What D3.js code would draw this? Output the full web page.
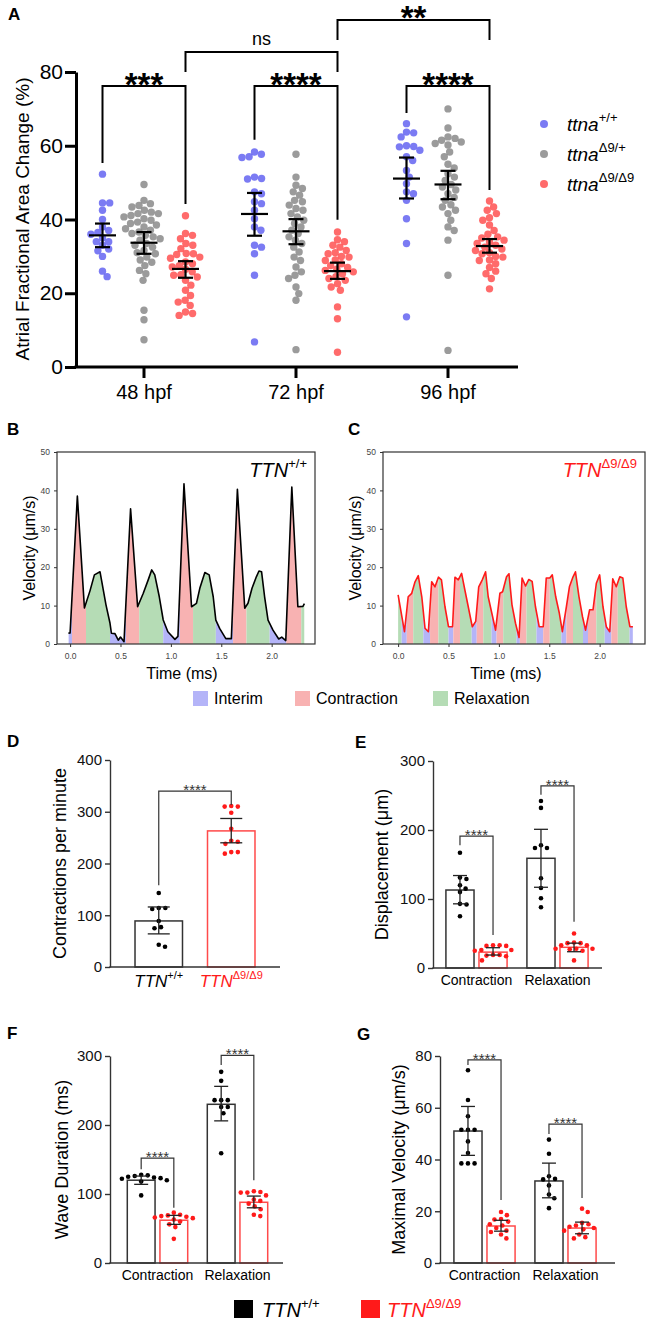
<!DOCTYPE html>
<html><head><meta charset="utf-8">
<script src="https://cdn.jsdelivr.net/npm/d3@7"></script>
<style>body{margin:0;background:#fff}</style>
</head><body>
<svg id="chart" width="647" height="1322"></svg>
<script>
// ================= DATA =================
// Panel A
const stagesA = ["48 hpf", "72 hpf", "96 hpf"];
const genotypesA = ["+/+", "Δ9/+", "Δ9/Δ9"];
const aTicks = [0, 20, 40, 60, 80];
const a48_wt = [52.3, 44.5, 44.5, 42.5, 40, 38, 37, 36.5, 36, 35, 34, 34, 33, 32, 31.5, 30, 26, 24.5];
const a48_het = [49.5, 45.2, 44.3, 43.8, 43.4, 42.5, 42, 41.6, 41.6, 41.1, 40.7, 40.2, 39.8, 39.3, 38.9, 38.5, 38, 37.5, 37.1, 36.6, 36.2, 35.7, 35.3, 34.8, 34.4, 33.5, 33, 32.5, 31.6, 31, 30.7, 29.8, 29, 28.4, 27.5, 26.2, 25.3, 23.5, 15.4, 12.8, 7.4];
const a48_mut = [41, 36.2, 35.7, 34.8, 33.5, 33, 32.1, 30.8, 30.7, 30.5, 29.8, 29.5, 28.5, 28, 27.5, 27.1, 26.5, 25.8, 25, 24.9, 24.4, 23.5, 22.2, 20.8, 19.4, 18.1, 17.6, 16.7, 14.9, 14.5, 14];
const a72_wt = [58.3, 57.7, 57, 56.8, 51.5, 51.1, 51, 47.5, 47, 44.8, 44.3, 42.5, 40.2, 38, 37.1, 33, 32.5, 30.7, 24.9, 6.8];
const a72_het = [57.7, 51.5, 49.3, 48.4, 47.5, 46.6, 45.2, 44.8, 43.9, 43, 42.5, 41.6, 40.7, 39.8, 38.9, 38, 37.1, 36.2, 35.3, 34.4, 33.5, 32.5, 31.2, 29.8, 28.9, 27.1, 25.8, 24.9, 24, 21.7, 19.9, 18.1, 4.7];
const a72_mut = [36.6, 34.5, 34, 33, 32.5, 31.6, 31, 30.7, 30, 29.8, 29, 28.9, 28, 27.5, 27, 26.5, 26.2, 25.8, 25.3, 24.5, 24, 23.5, 22.6, 21.7, 20.8, 16.3, 13.1, 4];
const a96_wt = [66, 63.7, 63.5, 62.4, 60, 59.8, 59.7, 58.8, 57, 56, 53.3, 51.5, 49.7, 47.5, 47, 45.2, 40.2, 33.5, 13.6];
const a96_het = [70, 64.8, 62.4, 62, 61.5, 61, 60.6, 60.2, 58.3, 57, 55, 54, 52.4, 51.5, 50.6, 49.5, 48.8, 48, 47, 46, 45.2, 44, 43.4, 42.5, 41.6, 39.8, 38, 37, 34.4, 24.9, 4.5];
const a96_mut = [45, 43.4, 42.5, 41.6, 40.5, 39.8, 38.5, 37, 36, 35.3, 35, 34.4, 34, 33.5, 33, 32.5, 32, 31.6, 31, 30.7, 30, 29.8, 29, 28.9, 28, 27, 26, 25.3, 24, 21.2];
const aMean = [[35.7, 33.7, 26.6], [41.5, 36.8, 26.0], [51.1, 49.5, 32.8]];
const aLow = [[32.5, 30.7, 24.2], [35.6, 33.3, 23.9], [45.7, 45.5, 31.0]];
const aHigh = [[38.9, 36.6, 28.7], [47.2, 40.1, 28.3], [56.8, 53.2, 34.7]];

// Panels B, C
const velTicks = [0, 10, 20, 30, 40, 50];
const timeTicks = [0, 0.5, 1.0, 1.5, 2.0];
const phaseNames = ["Interim", "Contraction", "Relaxation"];
const traceB = [[-0.017,2.8],[0.0,2.9],[0.072,38.5],[0.142,9.4],[0.198,13.9],[0.241,18],[0.297,18.8],[0.356,10.2],[0.396,5.4],[0.41,2.8],[0.445,2.7],[0.478,1.0],[0.50,1.8],[0.535,0.6],[0.60,35.2],[0.67,9.7],[0.726,13.2],[0.775,16.7],[0.81,19.3],[0.84,18],[0.885,12.3],[0.924,6.25],[0.97,3.2],[1.04,1.2],[1.07,2.0],[1.13,41.7],[1.205,9.7],[1.254,10.6],[1.287,14.5],[1.337,18.6],[1.38,18],[1.42,12.3],[1.446,6.2],[1.485,4],[1.545,1.4],[1.6,1.4],[1.66,40.3],[1.733,9.3],[1.765,10.6],[1.805,14.5],[1.848,17.5],[1.874,19],[1.90,18.8],[1.93,12.3],[1.964,6.2],[2.013,3.6],[2.07,1.3],[2.10,1.8],[2.14,0.9],[2.20,40.9],[2.26,9.7],[2.31,9.8],[2.325,10.5]];
const phasesB = [[-0.017,0.02,"Interim"],[0.02,0.158,"Contraction"],[0.158,0.396,"Relaxation"],[0.396,0.554,"Interim"],[0.554,0.686,"Contraction"],[0.686,0.924,"Relaxation"],[0.924,1.089,"Interim"],[1.089,1.22,"Contraction"],[1.22,1.446,"Relaxation"],[1.446,1.617,"Interim"],[1.617,1.75,"Contraction"],[1.75,1.98,"Relaxation"],[1.98,2.145,"Interim"],[2.145,2.294,"Contraction"],[2.294,2.327,"Relaxation"]];
const traceC = [[0.0,12.8],[0.063,3.2],[0.10,12.3],[0.135,13.2],[0.168,16.2],[0.20,17.8],[0.235,12.3],[0.267,4.1],[0.30,3.2],[0.333,16.2],[0.366,14.9],[0.40,17.4],[0.43,16.7],[0.465,9.7],[0.50,4.5],[0.54,4.5],[0.564,17.4],[0.597,16.7],[0.63,18.4],[0.663,14],[0.696,9.7],[0.736,4.5],[0.77,5.9],[0.80,14.9],[0.835,16.7],[0.868,18.8],[0.894,12.3],[0.93,8],[0.967,3.6],[1.01,13.2],[1.037,13.6],[1.076,17.5],[1.10,18.3],[1.13,10.2],[1.165,5.4],[1.20,1.7],[1.23,17.2],[1.264,15.1],[1.297,16.8],[1.33,16.3],[1.363,9.7],[1.40,4.5],[1.44,4.5],[1.47,17.2],[1.505,17.2],[1.53,18],[1.564,12.3],[1.60,8],[1.63,3.2],[1.67,9.7],[1.70,14.9],[1.736,17.5],[1.76,18.8],[1.795,12.3],[1.83,7.1],[1.86,3.6],[1.90,8.9],[1.934,8.9],[1.967,15.8],[2.0,18],[2.033,9.7],[2.066,4.5],[2.10,3.2],[2.13,17],[2.165,14.9],[2.20,17.5],[2.23,17.2],[2.264,9.7],[2.30,4.5],[2.33,4.5]];
const phasesC = [[-0.03,0.035,"Relaxation"],[0.035,0.086,"Interim"],[0.086,0.15,"Contraction"],[0.15,0.25,"Relaxation"],[0.25,0.317,"Interim"],[0.317,0.40,"Contraction"],[0.40,0.50,"Relaxation"],[0.50,0.548,"Interim"],[0.548,0.614,"Contraction"],[0.614,0.73,"Relaxation"],[0.73,0.78,"Interim"],[0.78,0.845,"Contraction"],[0.845,0.927,"Relaxation"],[0.927,0.977,"Interim"],[0.977,1.043,"Contraction"],[1.043,1.175,"Relaxation"],[1.175,1.208,"Interim"],[1.208,1.274,"Contraction"],[1.274,1.373,"Relaxation"],[1.373,1.44,"Interim"],[1.44,1.505,"Contraction"],[1.505,1.62,"Relaxation"],[1.62,1.67,"Interim"],[1.67,1.736,"Contraction"],[1.736,1.835,"Relaxation"],[1.835,1.884,"Interim"],[1.884,1.967,"Contraction"],[1.967,2.05,"Relaxation"],[2.05,2.116,"Interim"],[2.116,2.18,"Contraction"],[2.18,2.297,"Relaxation"],[2.297,2.33,"Interim"]];

// Panel D
const dCats = ["+/+", "Δ9/Δ9"];
const dTicks = [0, 100, 200, 300, 400];
const dMean = [89, 263];
const dLow = [64, 240];
const dHigh = [116, 287];
const dPtsWT = [143, 114, 112, 114, 89, 75, 77, 39, 43];
const dPtsMut = [311, 310, 310, 298, 267, 242, 238, 244, 219, 222, 222];

// Panels E, F, G (Contraction / Relaxation)
const phaseCats = ["Contraction", "Relaxation"];
const genoBars = ["wt", "mut"];
const eTicks = [0, 100, 200, 300];
const eMeanWT = [113, 159], eLowWT = [93, 117], eHighWT = [134, 201];
const eMeanMut = [23, 30], eLowMut = [18.8, 23.6], eHighMut = [29.4, 36];
const ePtsWT_C = [167, 131, 129, 120, 115, 110, 93, 92, 75];
const ePtsMut_C = [33, 33, 32, 32, 26, 26, 25, 19, 19, 18, 17, 11];
const ePtsWT_R = [242, 232, 178, 174, 174, 130, 116, 101, 88];
const ePtsMut_R = [50, 37, 36, 36, 33, 33, 28, 28, 27, 28, 25, 11];

const fTicks = [0, 100, 200, 300];
const fMeanWT = [120, 230], fLowWT = [114, 206], fHighWT = [126, 256];
const fMeanMut = [62, 88], fLowMut = [56, 80], fHighMut = [69, 97];
const fPtsWT_C = [128, 127, 126, 125, 124, 123, 122, 120, 118, 98];
const fPtsMut_C = [73, 70, 69, 68, 67, 66, 65, 63, 60, 56, 52, 35];
const fPtsWT_R = [277, 264, 236, 236, 236, 226, 226, 217, 159];
const fPtsMut_R = [104, 103, 102, 102, 98, 92, 90, 86, 82, 78, 70, 68];

const gTicks = [0, 20, 40, 60, 80];
const gMeanWT = [51, 31.7], gLowWT = [41.6, 25.2], gHighWT = [60.5, 38.6];
const gMeanMut = [14.3, 13.5], gLowMut = [12.3, 11.3], gHighMut = [16.5, 15.8];
const gPtsWT_C = [74.5, 63, 56.7, 51.5, 51.5, 51.5, 47, 42.5, 38.5, 38.5, 38.5];
const gPtsMut_C = [19.7, 18.5, 17, 16.8, 16, 15, 14.5, 13.5, 12.5, 12, 11, 9.5];
const gPtsWT_R = [47.7, 42.2, 33.5, 32.5, 32.3, 30, 26.5, 25, 21.2];
const gPtsMut_R = [21, 19.7, 15.5, 15, 14.5, 14, 13.5, 13, 12.5, 11, 10, 9.5];

// ================= DRAWING =================
const F = "'Liberation Sans', Arial, Helvetica, sans-serif";
const svg = d3.select("#chart").attr("font-family", F);
svg.append("rect").attr("width", 647).attr("height", 1322).attr("fill", "#fff");
const RED = "#ff1a1a";

function txt(g, x, y, s, size, opts = {}) {
  const t = g.append("text").attr("x", x).attr("y", y).text(s)
    .attr("font-family", F).attr("font-size", size).attr("fill", opts.fill || "#000");
  if (opts.anchor) t.attr("text-anchor", opts.anchor);
  if (opts.bold) t.attr("font-weight", "bold");
  if (opts.italic) t.attr("font-style", "italic");
  return t;
}
function supText(g, x, y, base, sup, size, supSize, supDy, opts = {}) {
  const t = g.append("text").attr("x", x).attr("y", y).attr("font-family", F)
    .attr("font-size", size).attr("fill", opts.fill || "#000").attr("font-style", "italic");
  if (opts.anchor) t.attr("text-anchor", opts.anchor);
  t.append("tspan").text(base);
  t.append("tspan").text(sup).attr("font-size", supSize).attr("dy", -supDy).attr("font-style", "normal");
  return t;
}
function swarm(vals, yS, dist) {
  const pts = vals.map(v => ({ v, y: yS(v), dx: 0 }));
  const order = pts.slice().sort((a, b) => a.y - b.y);
  const placed = [];
  for (const p of order) {
    const cands = [0];
    for (const q of placed) {
      const dy = Math.abs(q.y - p.y);
      if (dy < dist) { const s = Math.sqrt(dist * dist - dy * dy); cands.push(q.dx + s, q.dx - s); }
    }
    cands.sort((a, b) => Math.abs(a) - Math.abs(b));
    for (const c of cands) {
      if (placed.every(q => { const ddx = q.dx - c, ddy = q.y - p.y; return ddx * ddx + ddy * ddy >= dist * dist - 0.01; })) { p.dx = c; break; }
    }
    placed.push(p);
  }
  return pts;
}
function bracket(g, x1, x2, yLine, yEnd1, yEnd2, label, size, bold, textY, stroke, sw, color) {
  g.append("path").attr("d", `M${x1},${yEnd1}V${yLine}H${x2}V${yEnd2}`)
    .attr("fill", "none").attr("stroke", stroke).attr("stroke-width", sw);
  if (label) txt(g, (x1 + x2) / 2, textY, label, size, { anchor: "middle", bold, fill: color || stroke });
}
function panelLabel(s, x, y) { txt(svg, x, y, s, 17, { bold: true }); }

// ---------- Panel A ----------
panelLabel("A", 8, 20);
const gA = svg.append("g");
const xA = d3.scaleBand().domain(stagesA).range([68, 524]);
const xAin = d3.scalePoint().domain(genotypesA).range([-41.5, 41.5]);
const yA = d3.scaleLinear().domain([0, 80]).range([367, 72]);
const cxA = (si, gi) => xA(stagesA[si]) + xA.bandwidth() / 2 + xAin(genotypesA[gi]);
const aColors = ["rgb(90,90,240)", "rgb(130,130,130)", "rgb(255,70,70)"];
const aData = [[a48_wt, a48_het, a48_mut], [a72_wt, a72_het, a72_mut], [a96_wt, a96_het, a96_mut]];
aData.forEach((stage, si) => stage.forEach((vals, gi) => {
  const pts = swarm(vals, yA, 7.2);
  gA.append("g").selectAll("circle").data(pts).join("circle")
    .attr("cx", d => cxA(si, gi) + d.dx).attr("cy", d => d.y).attr("r", 3.7)
    .attr("fill", aColors[gi]).attr("fill-opacity", 0.8);
}));
aMean.forEach((row, si) => row.forEach((m, gi) => {
  const x = cxA(si, gi);
  const g = gA.append("g").attr("stroke", "#000").attr("stroke-width", 2.2);
  g.append("line").attr("x1", x - 13.5).attr("x2", x + 13.5).attr("y1", yA(m)).attr("y2", yA(m));
  g.append("line").attr("x1", x).attr("x2", x).attr("y1", yA(aLow[si][gi])).attr("y2", yA(aHigh[si][gi]));
  g.append("line").attr("x1", x - 7.5).attr("x2", x + 7.5).attr("y1", yA(aLow[si][gi])).attr("y2", yA(aLow[si][gi]));
  g.append("line").attr("x1", x - 7.5).attr("x2", x + 7.5).attr("y1", yA(aHigh[si][gi])).attr("y2", yA(aHigh[si][gi]));
}));
const axAy = gA.append("g").attr("transform", "translate(76,0)")
  .call(d3.axisLeft(yA).tickValues(aTicks).tickSize(11).tickSizeOuter(0).tickPadding(2));
axAy.select(".domain").attr("stroke", "#000").attr("stroke-width", 3);
axAy.selectAll(".tick line").attr("stroke", "#000").attr("stroke-width", 3);
axAy.selectAll("text").attr("font-family", F).attr("font-size", 21).attr("fill", "#000");
const axAx = gA.append("g").attr("transform", "translate(0,367)")
  .call(d3.axisBottom(xA).tickSize(11).tickSizeOuter(0).tickPadding(7));
axAx.select(".domain").remove();
axAx.selectAll(".tick line").attr("stroke", "#000").attr("stroke-width", 3);
axAx.selectAll("text").attr("font-family", F).attr("font-size", 20).attr("fill", "#000");
gA.append("line").attr("x1", 74.5).attr("x2", 518).attr("y1", 367).attr("y2", 367).attr("stroke", "#000").attr("stroke-width", 3);
txt(gA, 0, 0, "Atrial Fractional Area Change (%)", 19, { anchor: "middle" })
  .attr("transform", "translate(29,219) rotate(-90)");
// significance
const starOff = 10;
bracket(gA, cxA(0, 0), cxA(0, 2), yA(76.2), yA(55.3), yA(44.2), "***", 33, true, yA(76.2) + starOff, "#000", 2);
bracket(gA, cxA(1, 0), cxA(1, 2), yA(76.2), yA(61.6), yA(39.9), "****", 33, true, yA(76.2) + starOff, "#000", 2);
bracket(gA, cxA(2, 0), cxA(2, 2), yA(76.2), yA(68.9), yA(48), "****", 33, true, yA(76.2) + starOff, "#000", 2);
bracket(gA, cxA(0, 2), cxA(1, 2), yA(85.4), yA(80), yA(80), "", 18, false, 0, "#000", 2);
txt(gA, (cxA(0, 2) + cxA(1, 2)) / 2, 45, "ns", 18, { anchor: "middle" });
bracket(gA, cxA(1, 2), cxA(2, 2), yA(94.1), yA(88.7), yA(88.7), "**", 33, true, yA(94.1) + starOff - 1, "#000", 2);
// legend A
genotypesA.forEach((gname, i) => {
  const y = 124 + i * 30;
  gA.append("circle").attr("cx", 544).attr("cy", y).attr("r", 4).attr("fill", aColors[i]).attr("fill-opacity", 0.8);
  supText(gA, 567, y + 7, "ttna", gname, 19, 13, 9);
});

// ---------- Panels B & C ----------
const phaseColor = { Interim: "#b4b4f8", Contraction: "#f8b2b2", Relaxation: "#b5dcb5" };
function tracePanel(id, xS, yS, trace, phases, lineColor, label, labelColor, titleX, yTitleX) {
  const g = svg.append("g");
  const x0 = xS.range()[0], x1 = xS.range()[1], yTop = yS.range()[1], yBot = yS.range()[0];
  const area = d3.area().x(d => xS(d[0])).y0(yS(0)).y1(d => yS(d[1]));
  const defs = g.append("defs");
  phases.forEach((p, i) => {
    const cid = id + "clip" + i;
    defs.append("clipPath").attr("id", cid).append("rect")
      .attr("x", xS(p[0])).attr("width", xS(p[1]) - xS(p[0])).attr("y", yTop).attr("height", yBot - yTop);
    g.append("path").datum(trace).attr("d", area).attr("fill", phaseColor[p[2]]).attr("clip-path", `url(#${cid})`);
  });
  g.append("path").datum(trace).attr("d", d3.line().x(d => xS(d[0])).y(d => yS(d[1])))
    .attr("fill", "none").attr("stroke", lineColor).attr("stroke-width", 1.6).attr("stroke-linejoin", "round");
  g.append("rect").attr("x", x0).attr("y", yTop).attr("width", x1 - x0).attr("height", yBot - yTop)
    .attr("fill", "none").attr("stroke", "#333").attr("stroke-width", 1.2);
  const ay = g.append("g").attr("transform", `translate(${x0},0)`)
    .call(d3.axisLeft(yS).tickValues(velTicks).tickSize(3).tickSizeOuter(0).tickPadding(4));
  ay.select(".domain").remove();
  ay.selectAll("line").attr("stroke", "#333");
  ay.selectAll("text").attr("font-family", F).attr("font-size", 8.5).attr("fill", "#444");
  const ax = g.append("g").attr("transform", `translate(0,${yBot})`)
    .call(d3.axisBottom(xS).tickValues(timeTicks).tickFormat(d3.format(".1f")).tickSize(3).tickSizeOuter(0).tickPadding(6));
  ax.select(".domain").remove();
  ax.selectAll("line").attr("stroke", "#333");
  ax.selectAll("text").attr("font-family", F).attr("font-size", 8.5).attr("fill", "#444");
  txt(g, titleX, 679, "Time (ms)", 16, { anchor: "middle" });
  txt(g, 0, 0, "Velocity (μm/s)", 16, { anchor: "middle" })
    .attr("transform", `translate(${yTitleX},${(yTop + yBot) / 2}) rotate(-90)`);
  supText(g, x1 - 8, 477, "TTN", label, 20, 13, 9, { anchor: "end", fill: labelColor });
}
panelLabel("B", 7, 435);
panelLabel("C", 348, 435);
const yB = d3.scaleLinear().domain([0, 50]).range([644, 452]);
tracePanel("b", d3.scaleLinear().domain([-0.13, 2.43]).range([57, 315]), yB, traceB, phasesB, "#000", "+/+", "#000", 182, 35);
tracePanel("c", d3.scaleLinear().domain([-0.15, 2.45]).range([383, 645]), yB, traceC, phasesC, RED, "Δ9/Δ9", RED, 506, 361);
// legend B/C
const legX = d3.scaleOrdinal().domain(phaseNames).range([193, 295, 433]);
phaseNames.forEach(p => {
  svg.append("rect").attr("x", legX(p)).attr("y", 691).attr("width", 15).attr("height", 15).attr("fill", phaseColor[p]);
  txt(svg, legX(p) + 21, 704, p, 16);
});

// ---------- Bar panels ----------
function yAxis(g, x, yS, ticks) {
  const a = g.append("g").attr("transform", `translate(${x},0)`)
    .call(d3.axisLeft(yS).tickValues(ticks).tickSize(5).tickSizeOuter(0).tickPadding(3));
  a.select(".domain").attr("stroke", "#333").attr("stroke-width", 1.4);
  a.selectAll(".tick line").attr("stroke", "#333").attr("stroke-width", 1.4);
  a.selectAll("text").attr("font-family", F).attr("font-size", 15).attr("fill", "#111");
}
function drawBar(g, x0, w, yS, mean, lo, hi, pts, color, capHalf) {
  const cx = x0 + w / 2;
  g.append("rect").attr("x", x0).attr("width", w).attr("y", yS(mean)).attr("height", yS(0) - yS(mean))
    .attr("fill", "#fff").attr("stroke", color === "#000" ? "#333" : "#ff4a4a").attr("stroke-width", 1.5);
  const sw = swarm(pts, yS, 6.6);
  g.append("g").selectAll("circle").data(sw).join("circle")
    .attr("cx", d => cx + d.dx).attr("cy", d => d.y).attr("r", 2.3).attr("fill", color);
  const e = g.append("g").attr("stroke", "#222").attr("stroke-width", 1.3);
  e.append("line").attr("x1", cx).attr("x2", cx).attr("y1", yS(lo)).attr("y2", yS(hi));
  e.append("line").attr("x1", cx - capHalf).attr("x2", cx + capHalf).attr("y1", yS(lo)).attr("y2", yS(lo));
  e.append("line").attr("x1", cx - capHalf).attr("x2", cx + capHalf).attr("y1", yS(hi)).attr("y2", yS(hi));
}
function sigBracket(g, x1, x2, yS, vLine, vEnd1, vEnd2) {
  bracket(g, x1, x2, yS(vLine), yS(vEnd1), yS(vEnd2), "****", 15, false, yS(vLine) + 4, "#333", 1.2);
}

// Panel D
panelLabel("D", 7, 747);
{
  const g = svg.append("g");
  const yS = d3.scaleLinear().domain([0, 400]).range([967, 760]);
  const xS = d3.scaleBand().domain(dCats).range([110, 280]).padding(0.345);
  drawBar(g, xS(dCats[0]), xS.bandwidth(), yS, dMean[0], dLow[0], dHigh[0], dPtsWT, "#000", 11);
  drawBar(g, xS(dCats[1]), xS.bandwidth(), yS, dMean[1], dLow[1], dHigh[1], dPtsMut, RED, 11);
  yAxis(g, 110, yS, dTicks);
  g.append("line").attr("x1", 109.3).attr("x2", 280).attr("y1", 967).attr("y2", 967).attr("stroke", "#333").attr("stroke-width", 1.4);
  const c1 = xS(dCats[0]) + xS.bandwidth() / 2, c2 = xS(dCats[1]) + xS.bandwidth() / 2;
  sigBracket(g, c1, c2, yS, 340, 158, 313);
  supText(g, c1, 987, "TTN", dCats[0], 17, 11, 8, { anchor: "middle" });
  supText(g, c2, 987, "TTN", dCats[1], 17, 11, 8, { anchor: "middle", fill: RED });
  txt(g, 0, 0, "Contractions per minute", 18, { anchor: "middle" }).attr("transform", `translate(66,${(760 + 967) / 2}) rotate(-90)`);
}

function groupPanel(axisX, axisEnd, yTop, yBot, domainMax, ticks, bandRange, meanWT, lowWT, highWT, meanMut, lowMut, highMut, ptsWT, ptsMut, brackets, title, titleX) {
  const g = svg.append("g");
  const yS = d3.scaleLinear().domain([0, domainMax]).range([yBot, yTop]);
  const xS = d3.scaleBand().domain(phaseCats).range(bandRange);
  const xIn = d3.scaleBand().domain(genoBars).range([0, xS.bandwidth()]).paddingInner(0.15).paddingOuter(0.3);
  phaseCats.forEach((c, i) => {
    drawBar(g, xS(c) + xIn("wt"), xIn.bandwidth(), yS, meanWT[i], lowWT[i], highWT[i], ptsWT[i], "#000", 7);
    drawBar(g, xS(c) + xIn("mut"), xIn.bandwidth(), yS, meanMut[i], lowMut[i], highMut[i], ptsMut[i], RED, 7);
    const b = brackets[i];
    sigBracket(g, xS(c) + xIn("wt") + xIn.bandwidth() / 2, xS(c) + xIn("mut") + xIn.bandwidth() / 2, yS, b[0], b[1], b[2]);
    txt(g, xS(c) + xS.bandwidth() / 2, yBot + 17, c, 14, { anchor: "middle" });
  });
  yAxis(g, axisX, yS, ticks);
  g.append("line").attr("x1", axisX - 0.7).attr("x2", axisEnd).attr("y1", yBot).attr("y2", yBot).attr("stroke", "#333").attr("stroke-width", 1.4);
  txt(g, 0, 0, title, 18, { anchor: "middle" }).attr("transform", `translate(${titleX},${(yTop + yBot) / 2}) rotate(-90)`);
}

panelLabel("E", 355, 748);
groupPanel(433, 602, 761, 968, 300, eTicks, [436, 598], eMeanWT, eLowWT, eHighWT, eMeanMut, eLowMut, eHighMut,
  [ePtsWT_C, ePtsWT_R], [ePtsMut_C, ePtsMut_R], [[191, 178, 48], [264, 251, 67]], "Displacement (μm)", 388);
panelLabel("F", 7, 1039);
groupPanel(110, 283, 1056, 1263, 300, fTicks, [117.5, 277.5], fMeanWT, fLowWT, fHighWT, fMeanMut, fLowMut, fHighMut,
  [fPtsWT_C, fPtsWT_R], [fPtsMut_C, fPtsMut_R], [[152, 136, 80], [301, 287, 120]], "Wave Duration (ms)", 68);
panelLabel("G", 357, 1040);
groupPanel(440, 615, 1056, 1263, 80, gTicks, [444, 606], gMeanWT, gLowWT, gHighWT, gMeanMut, gLowMut, gHighMut,
  [gPtsWT_C, gPtsWT_R], [gPtsMut_C, gPtsMut_R], [[78.5, 76.5, 24.3], [53.7, 49.9, 25.1]], "Maximal Velocity (μm/s)", 405);

// bottom legend
svg.append("rect").attr("x", 234).attr("y", 1300).attr("width", 19).attr("height", 18).attr("fill", "#000");
supText(svg, 262, 1317, "TTN", "+/+", 20, 13, 9);
svg.append("rect").attr("x", 361).attr("y", 1300).attr("width", 19).attr("height", 18).attr("fill", RED);
supText(svg, 387, 1317, "TTN", "Δ9/Δ9", 20, 13, 9, { fill: RED });
</script>
</body></html>
